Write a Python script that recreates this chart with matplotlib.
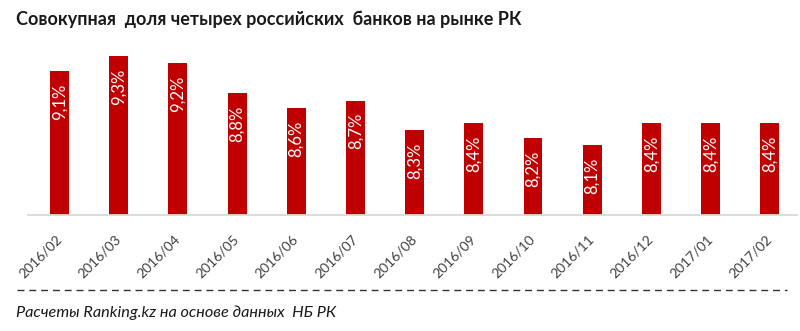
import matplotlib
matplotlib.use('Agg')
from matplotlib import pyplot as plt
from matplotlib.lines import Line2D
import numpy as np

# Share of the four Russian banks, by month
months = ['2016/02', '2016/03', '2016/04', '2016/05', '2016/06', '2016/07', '2016/08',
          '2016/09', '2016/10', '2016/11', '2016/12', '2017/01', '2017/02']
share = [9.1, 9.3, 9.2, 8.8, 8.6, 8.7, 8.3, 8.4, 8.2, 8.1, 8.4, 8.4, 8.4]

title = 'Совокупная  доля четырех российских  банков на рынке РК'
source = 'Расчеты Ranking.kz на основе данных  НБ РК'

plt.rcParams['font.family'] = ['Lato', 'DejaVu Sans']

W, H = 800, 331
fig = plt.figure(figsize=(W / 100, H / 100), dpi=100)
ax = fig.add_axes([28 / W, (H - 215) / H, (797 - 28) / W, 171 / H])

x = np.arange(len(months))
bars = ax.bar(x, share, width=0.32, color='#C00000', zorder=2)

ax.set_xlim(-0.532, 12.46)
ax.set_ylim(7.16, 9.46)

# value labels inside the bars, rotated
for rect, v in zip(bars, share):
    ax.annotate(f'{v:.1f}%'.replace('.', ','),
                xy=(rect.get_x() + rect.get_width() / 2, rect.get_height()),
                xytext=(0, -9), textcoords='offset points',
                rotation=90, ha='center', va='top',
                color='white', fontsize=12)

for s in ['top', 'right', 'left']:
    ax.spines[s].set_visible(False)
ax.spines['bottom'].set_color('#D9D9D9')
ax.spines['bottom'].set_linewidth(1.3)
ax.set_yticks([])
ax.set_xticks(x)
ax.set_xticklabels(months, rotation=45, ha='right', va='center',
                   rotation_mode='anchor', fontsize=10, color='#404040')
ax.tick_params(axis='x', length=0, pad=16)

fig.text(16 / W, 1 - 19 / H, title, fontsize=13, fontweight='bold',
         color='#1a1a1a', ha='left', va='center')

fig.add_artist(Line2D([17 / W, 787 / W], [1 - 290 / H, 1 - 290 / H],
                      color='#333333', linewidth=1, linestyle=(0, (5, 3.5)),
                      transform=fig.transFigure))
fig.text(16 / W, 1 - 313 / H, source, fontsize=11.7, fontstyle='italic',
         color='#1a1a1a', ha='left', va='center')

fig.savefig('out.png', dpi=100)
